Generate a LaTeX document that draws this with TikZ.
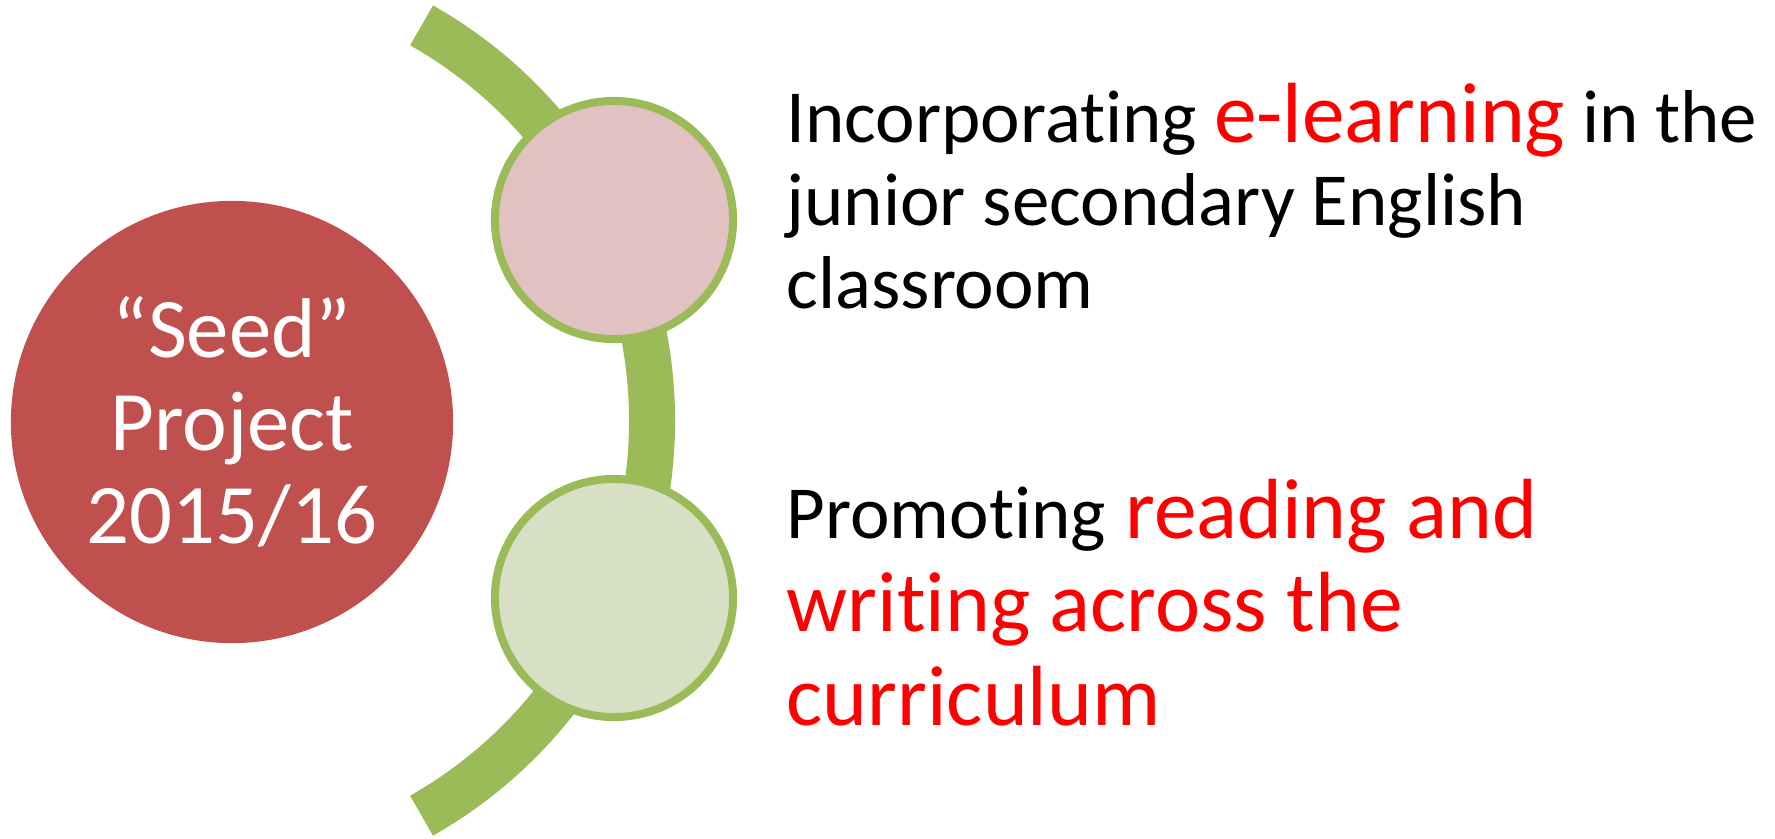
\documentclass[tikz,border=0pt]{standalone}
\usepackage{fontspec}
\setmainfont{Carlito}[Ligatures=NoCommon]

\definecolor{seedred}{HTML}{C0504D}
\definecolor{leafgreen}{HTML}{9BBB59}
\definecolor{pinkfill}{RGB}{226,193,194}
\definecolor{palefill}{RGB}{215,224,197}
\definecolor{hotred}{RGB}{255,0,0}

\newcommand{\redword}[1]{{\fontsize{24.3pt}{23.5pt}\selectfont\color{hotred}#1}}

\tikzset{
  topic/.style={circle, draw=leafgreen, line width=0.08cm, inner sep=0pt, minimum size=2.38cm},
  itemtext/.style={anchor=base west, align=left, inner sep=0pt}
}

\begin{document}
\begin{tikzpicture}[x=0.01cm,y=0.01cm]
  \useasboundingbox (0,0) rectangle (1775,838);

  \coordinate (hub) at (198,417.5);
  \draw[leafgreen, line width=0.46cm] (hub) ++(60.5:454) arc[start angle=60.5, end angle=-60.5, radius=454];

  \node[circle, fill=seedred, inner sep=0pt, minimum size=4.42cm, text=white, align=center,
        font=\fontsize{24.1pt}{26.5pt}\selectfont] (seed) at (232,416) {“Seed”\\Project\\2015/16};

  \node[topic, fill=pinkfill] (elearn) at (614,618) {};
  \node[topic, fill=palefill] (reading) at (614,240) {};

  % base anchor sits on the last line
  \node[itemtext, font=\fontsize{21.3pt}{23.5pt}\selectfont] (elearntext) at (786,530)
    {Incorporating \redword{e-learning} in the\\junior secondary English\\classroom};
  \node[itemtext, text=hotred, font=\fontsize{24.3pt}{26.5pt}\selectfont] (readingtext) at (786,113)
    {{\fontsize{21.3pt}{26.5pt}\selectfont\color{black}Promoting} reading and\\writing across the\\curriculum};
\end{tikzpicture}
\end{document}
